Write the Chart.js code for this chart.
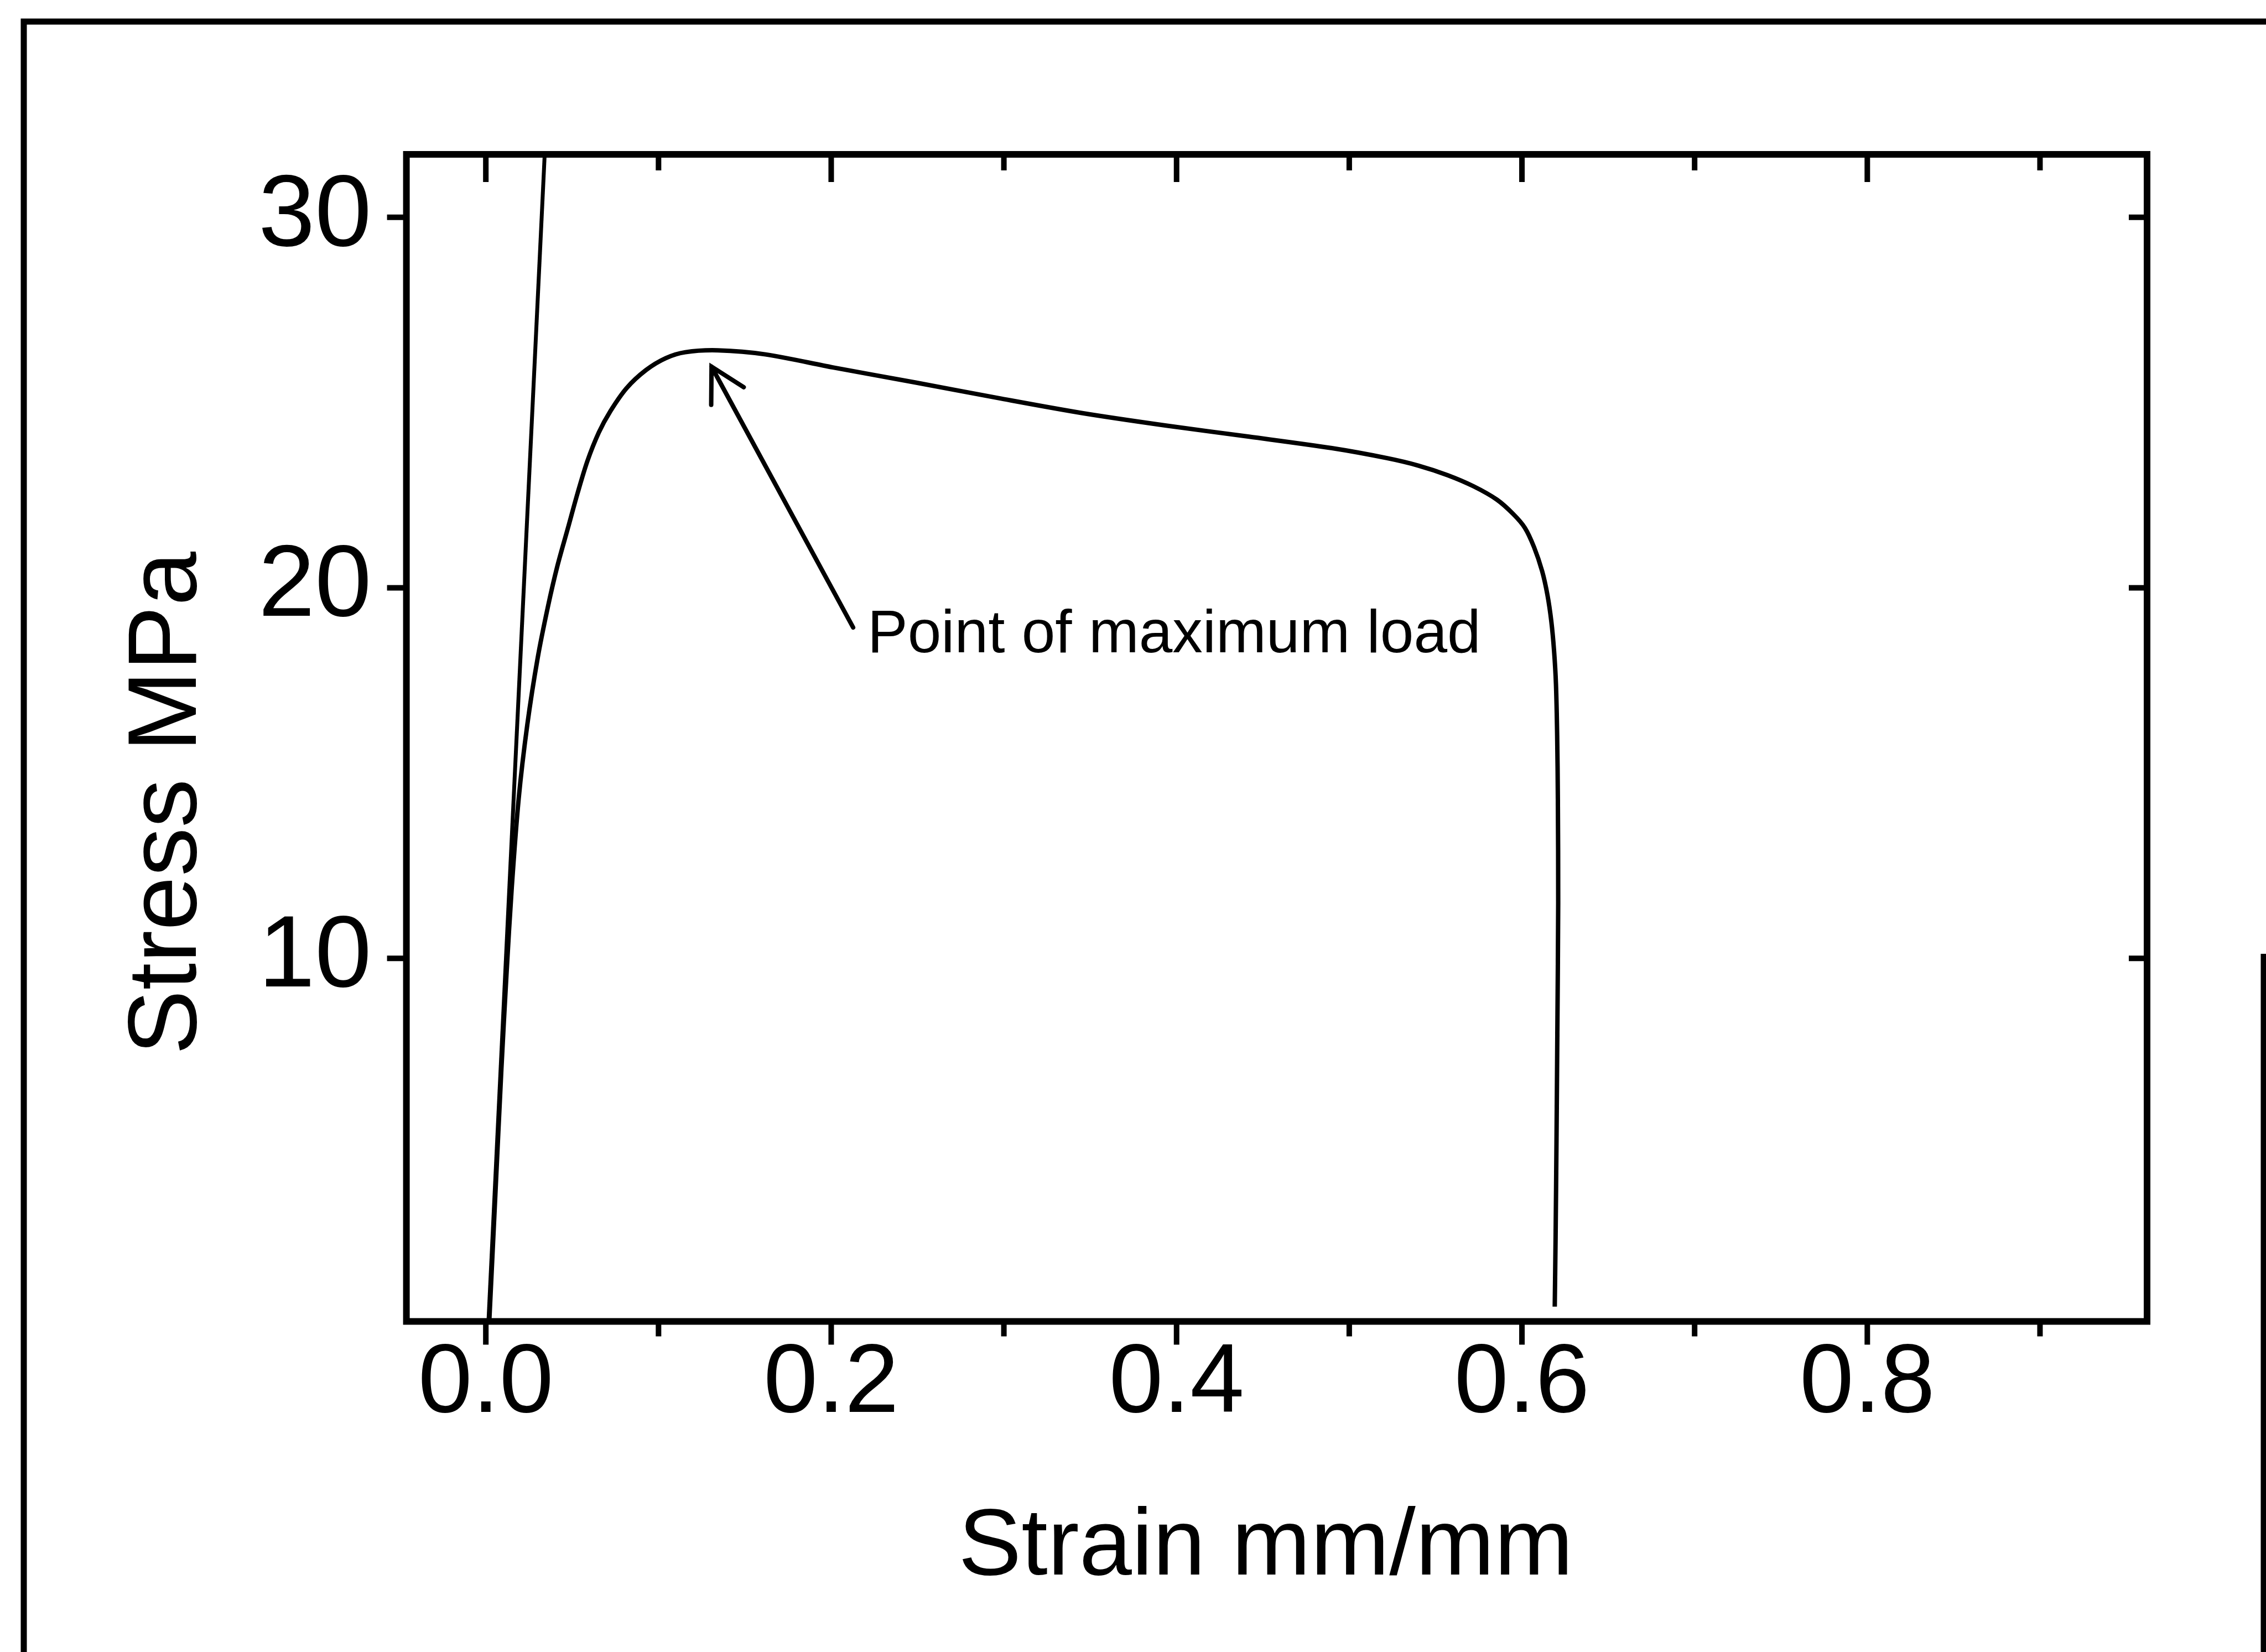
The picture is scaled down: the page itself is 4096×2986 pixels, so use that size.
<!DOCTYPE html>
<html>
<head>
<meta charset="utf-8">
<title>Stress - strain</title>
<script src="https://cdn.jsdelivr.net/npm/chart.js@4.4.0/dist/chart.umd.min.js"></script>
<style>
  html, body { margin: 0; padding: 0; background: #fff; }
  canvas { display: block; }
</style>
</head>
<body>
<canvas id="myChart" width="4096" height="2986"></canvas>
<script>
// tensile test curve
const strain = [0.002, 0.0055, 0.009, 0.012, 0.015, 0.019, 0.024, 0.030, 0.036, 0.0415,
  0.0474, 0.0531, 0.0588, 0.0654, 0.072, 0.0815, 0.0928, 0.1042, 0.1155, 0.1344,
  0.162, 0.201, 0.249, 0.297, 0.345, 0.394, 0.442, 0.490, 0.522, 0.540,
  0.557, 0.572, 0.5855, 0.595, 0.6017, 0.607, 0.6117, 0.6148, 0.6170, 0.6186,
  0.6197, 0.6204, 0.6208, 0.6210, 0.6205, 0.6200, 0.6195, 0.6190];
const stress = [0.2, 3.6, 7.0, 9.6, 11.9, 14.3, 16.3, 18.1, 19.5, 20.6,
  21.59, 22.55, 23.42, 24.19, 24.76, 25.39, 25.88, 26.2, 26.36, 26.41,
  26.3, 25.95, 25.54, 25.12, 24.72, 24.38, 24.08, 23.77, 23.50, 23.30,
  23.04, 22.74, 22.38, 21.99, 21.62, 21.1, 20.45, 19.8, 19.1, 18.3,
  17.4, 16.0, 14.3, 11.5, 8.0, 5.0, 2.5, 0.6];

// the steep elastic line
const elasticStrain = [0.0013, 0.0344];
const elasticStress = [0, 32];

const xTicks = [0, 0.2, 0.4, 0.6, 0.8];
const xMinorTicks = [0.1, 0.3, 0.5, 0.7, 0.9];
const yTicks = [10, 20, 30];

const xTitle = 'Strain mm/mm';
const yTitle = 'Stress MPa';
const noteText = 'Point of maximum load';
const noteTip = [0.1307, 25.97];
const noteTail = [0.2127, 18.93];
const noteAt = [0.2210, 18.26];

const family = "'Liberation Sans', Arial, Helvetica, sans-serif";

const frame = {
  id: 'frame',
  afterDraw(chart) {
    const ctx = chart.ctx;
    const {left, right, top, bottom} = chart.chartArea;
    const x = chart.scales.x;
    const y = chart.scales.y;
    ctx.save();
    ctx.strokeStyle = '#000';
    ctx.fillStyle = '#000';

    // border round the whole figure
    ctx.lineWidth = 11;
    ctx.beginPath();
    ctx.moveTo(43, 2986);
    ctx.lineTo(43, 39);
    ctx.lineTo(4096, 39);
    ctx.moveTo(4092, 1724);
    ctx.lineTo(4092, 2986);
    ctx.stroke();

    // plot box
    ctx.lineWidth = 12;
    ctx.strokeRect(left, top, right - left, bottom - top);

    // ticks: out at bottom/left, in at top/right
    ctx.lineWidth = 10;
    ctx.beginPath();
    xTicks.forEach(v => {
      const px = x.getPixelForValue(v);
      ctx.moveTo(px, bottom); ctx.lineTo(px, bottom + 42);
      ctx.moveTo(px, top); ctx.lineTo(px, top + 50);
    });
    xMinorTicks.forEach(v => {
      const px = x.getPixelForValue(v);
      ctx.moveTo(px, bottom); ctx.lineTo(px, bottom + 27);
      ctx.moveTo(px, top); ctx.lineTo(px, top + 29);
    });
    yTicks.forEach(v => {
      const py = y.getPixelForValue(v);
      ctx.moveTo(left - 35, py); ctx.lineTo(left, py);
      ctx.moveTo(right, py); ctx.lineTo(right - 33, py);
    });
    ctx.stroke();

    // axis titles
    ctx.textAlign = 'center';
    ctx.textBaseline = 'alphabetic';
    ctx.font = '171px ' + family;
    ctx.fillText(xTitle, 2288, 2846);
    ctx.save();
    ctx.translate(354, 1452);
    ctx.rotate(-Math.PI / 2);
    ctx.font = '176px ' + family;
    ctx.fillText(yTitle, 0, 0);
    ctx.restore();

    // arrow to the peak
    const tx = x.getPixelForValue(noteTip[0]), ty = y.getPixelForValue(noteTip[1]);
    const sx = x.getPixelForValue(noteTail[0]), sy = y.getPixelForValue(noteTail[1]);
    const ang = Math.atan2(sy - ty, sx - tx);
    const head = 69, spread = 29 * Math.PI / 180;
    ctx.lineWidth = 8;
    ctx.lineCap = 'round';
    ctx.beginPath();
    ctx.moveTo(sx, sy);
    ctx.lineTo(tx, ty);
    ctx.moveTo(tx + head * Math.cos(ang + spread), ty + head * Math.sin(ang + spread));
    ctx.lineTo(tx, ty);
    ctx.lineTo(tx + head * Math.cos(ang - spread), ty + head * Math.sin(ang - spread));
    ctx.stroke();

    ctx.textAlign = 'left';
    ctx.font = '109px ' + family;
    ctx.fillText(noteText, x.getPixelForValue(noteAt[0]), y.getPixelForValue(noteAt[1]));
    ctx.restore();
  }
};

const ctx = document.getElementById('myChart').getContext('2d');
const chart = new Chart(ctx, {
  type: 'scatter',
  data: {
    datasets: [{
      label: 'Stress',
      data: strain.map((s, i) => ({x: s, y: stress[i]})),
      showLine: true,
      borderColor: '#000',
      borderWidth: 8,
      pointRadius: 0,
      tension: 0.3,
      fill: false
    }, {
      label: 'Elastic',
      data: elasticStrain.map((s, i) => ({x: s, y: elasticStress[i]})),
      showLine: true,
      borderColor: '#000',
      borderWidth: 7,
      pointRadius: 0,
      fill: false
    }]
  },
  options: {
    responsive: false,
    animation: false,
    devicePixelRatio: 1,
    layout: { padding: { left: 0, top: 279, right: 215, bottom: 0 } },
    plugins: {
      legend: { display: false },
      tooltip: { enabled: false }
    },
    scales: {
      x: {
        type: 'linear',
        position: 'bottom',
        min: -0.046,
        max: 0.962,
        afterBuildTicks: s => { s.ticks = xTicks.map(v => ({value: v})); },
        afterFit: s => { s.height = 597.5; },
        grid: { display: false },
        border: { display: false },
        ticks: {
          color: '#000',
          padding: 19,
          maxRotation: 0,
          autoSkip: false,
          font: { family: family, size: 176, lineHeight: 1 },
          callback: v => v.toFixed(1)
        }
      },
      y: {
        type: 'linear',
        min: 0.2,
        max: 31.7,
        afterBuildTicks: s => { s.ticks = yTicks.map(v => ({value: v})); },
        afterFit: s => { s.width = 734.6; },
        grid: { display: false },
        border: { display: false },
        ticks: {
          color: '#000',
          padding: 55,
          autoSkip: false,
          font: { family: family, size: 184, lineHeight: 1 },
          callback: v => String(v)
        }
      }
    }
  },
  plugins: [frame]
});
</script>
</body>
</html>
